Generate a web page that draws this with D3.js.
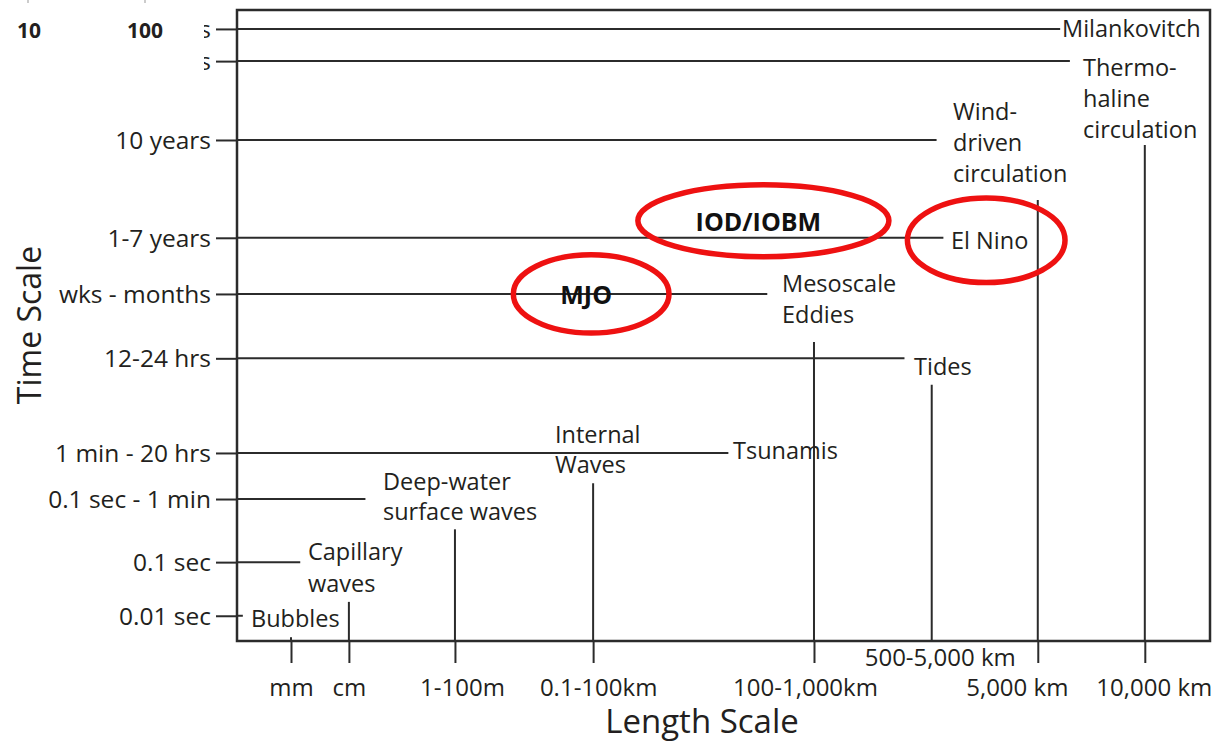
<!DOCTYPE html>
<html>
<head>
<meta charset="utf-8">
<script src="https://cdn.jsdelivr.net/npm/d3@7"></script>
<style>
  body { margin: 0; background: #fff; }
  svg { display: block; }
  text { font-family: "Open Sans", "Noto Sans", sans-serif; fill: #231f20; }
</style>
</head>
<body>
<svg class="scales-svg" width="1217" height="743"></svg>
<script>
// time scale ticks (top to bottom), position in arbitrary 0-100 units
var timeLabels = ["100,000 years", "1,000 years", "10 years", "1-7 years", "wks - months",
    "12-24 hrs", "1 min - 20 hrs", "0.1 sec - 1 min", "0.1 sec", "0.01 sec"];
var timeLevels = [97.0, 91.9, 79.4, 63.9, 55.0, 44.8, 29.8, 22.5, 12.5, 4.0];

// length scale ticks (left to right)
var lengthLabels = ["mm", "cm", "1-100m", "0.1-100km", "100-1,000km", "500-5,000 km", "5,000 km", "10,000 km"];
var lengthLevels = [5.55, 11.5, 22.4, 36.6, 59.3, 71.4, 82.3, 93.3];

// phenomena: which time row / length column, and how far the line reaches
var phenomena = [
    {"name": ["Milankovitch"], "time": 0, "length": null, "reach": 84.6, "rise": null},
    {"name": ["Thermo-", "haline", "circulation"], "time": 1, "length": 7, "reach": 85.6, "rise": 78.6},
    {"name": ["Wind-", "driven", "circulation"], "time": 2, "length": 6, "reach": 71.9, "rise": 69.9},
    {"name": ["El Nino"], "time": 3, "length": null, "reach": 72.6, "rise": null},
    {"name": ["Mesoscale", "Eddies"], "time": 4, "length": 4, "reach": 54.5, "rise": 47.4},
    {"name": ["Tides"], "time": 5, "length": 5, "reach": 68.6, "rise": 40.6},
    {"name": ["Internal", "Waves"], "time": null, "length": 3, "reach": null, "rise": 25.0},
    {"name": ["Tsunamis"], "time": 6, "length": null, "reach": 50.5, "rise": null},
    {"name": ["Deep-water", "surface waves"], "time": 7, "length": 2, "reach": 13.2, "rise": 17.7},
    {"name": ["Capillary", "waves"], "time": 8, "length": 1, "reach": 6.5, "rise": 6.2},
    {"name": ["Bubbles"], "time": 9, "length": 0, "reach": 0.6, "rise": 0.6}
];

// red highlight ellipses
var highlights = [
    {"text": "IOD/IOBM", "x": 54.1, "y": 66.6, "rx": 12.9, "ry": 5.7},
    {"text": "MJO", "x": 36.4, "y": 55.0, "rx": 8.0, "ry": 6.2},
    {"text": "", "x": 77.0, "y": 63.5, "rx": 8.1, "ry": 6.7}
];

// where each phenomenon's label sits (layout only)
var labelPos = [
    [1062, 37, 31], [1083, 76, 31], [953, 120, 31], [951, 249, 31], [782, 292, 31],
    [914, 375, 31], [555, 443, 30], [733, 459, 31], [383, 490, 30], [308, 560, 32], [251, 627, 31]
];
var labelShift = {"5,000 km": -21, "10,000 km": 9, "1-100m": 7, "0.1-100km": 5, "100-1,000km": -9, "500-5,000 km": 8};

function drawChart() {
    var pLeft = 237, pRight = 1210, pTop = 10, pBottom = 641;
    var ink = "#2b2b2b";

    var svg = d3.select(".scales-svg");
    var x = d3.scaleLinear().domain([0, 100]).range([pLeft, pRight]);
    var y = d3.scaleLinear().domain([0, 100]).range([pBottom, pTop]);

    // frame
    svg.append("rect")
        .attr("x", pLeft).attr("y", pTop)
        .attr("width", pRight - pLeft).attr("height", pBottom - pTop)
        .attr("fill", "none").attr("stroke", ink).attr("stroke-width", 2.5);

    // time axis
    var yAxis = d3.axisLeft(y)
        .tickValues(timeLevels)
        .tickFormat(function(d, i) { return timeLabels[i]; })
        .tickSize(21).tickPadding(5);
    var gy = svg.append("g").attr("transform", "translate(" + pLeft + ",0)").call(yAxis);
    gy.select(".domain").remove();
    gy.selectAll(".tick line").attr("stroke", ink).attr("stroke-width", 2);
    gy.selectAll(".tick text")
        .attr("font-size", 24.5).attr("font-family", "Open Sans").attr("fill", "#231f20")
        .attr("dy", "0.35em");

    // length axis
    var xAxis = d3.axisBottom(x)
        .tickValues(lengthLevels)
        .tickFormat(function(d, i) { return lengthLabels[i]; })
        .tickSize(22).tickPadding(10);
    var gx = svg.append("g").attr("transform", "translate(0," + pBottom + ")").call(xAxis);
    gx.select(".domain").remove();
    gx.selectAll(".tick line")
        .attr("stroke", ink).attr("stroke-width", 2)
        .attr("y2", function(d, i) { return lengthLabels[i] == "500-5,000 km" ? 0 : 22; });
    gx.selectAll(".tick text")
        .attr("font-size", 24).attr("font-family", "Open Sans").attr("fill", "#231f20")
        .attr("dy", null)
        .attr("x", function(d, i) { return labelShift[lengthLabels[i]] || 0; })
        .attr("y", function(d, i) { return lengthLabels[i] == "500-5,000 km" ? 25 : 55; });

    // phenomena lines
    var marks = svg.append("g").attr("stroke", ink).attr("stroke-width", 2);
    marks.selectAll(".hline")
        .data(phenomena.filter(function(p) { return p.time !== null; })).enter()
        .append("line")
        .attr("x1", pLeft)
        .attr("x2", function(p) { return x(p.reach); })
        .attr("y1", function(p) { return y(timeLevels[p.time]); })
        .attr("y2", function(p) { return y(timeLevels[p.time]); });
    marks.selectAll(".vline")
        .data(phenomena.filter(function(p) { return p.length !== null; })).enter()
        .append("line")
        .attr("x1", function(p) { return x(lengthLevels[p.length]); })
        .attr("x2", function(p) { return x(lengthLevels[p.length]); })
        .attr("y1", pBottom)
        .attr("y2", function(p) { return y(p.rise); });

    // phenomena labels
    var labels = svg.selectAll(".plabel")
        .data(phenomena).enter()
        .append("text")
        .attr("font-size", 23.5)
        .attr("x", function(p, i) { return labelPos[i][0]; })
        .attr("y", function(p, i) { return labelPos[i][1]; });
    labels.selectAll("tspan")
        .data(function(p, i) { return p.name.map(function(n) { return {t: n, lh: labelPos[i][2], x: labelPos[i][0]}; }); })
        .enter().append("tspan")
        .attr("x", function(d) { return d.x; })
        .attr("dy", function(d, j) { return j == 0 ? 0 : d.lh; })
        .text(function(d) { return d.t; });

    // highlights
    svg.selectAll(".hl")
        .data(highlights).enter()
        .append("ellipse")
        .attr("cx", function(h) { return x(h.x); })
        .attr("cy", function(h) { return y(h.y); })
        .attr("rx", function(h) { return x(h.rx) - x(0); })
        .attr("ry", function(h) { return y(0) - y(h.ry); })
        .attr("fill", "none").attr("stroke", "#ee1111").attr("stroke-width", 5.5);
    svg.selectAll(".hltext")
        .data(highlights).enter()
        .append("text")
        .attr("x", function(h) { return x(h.x) - 5; })
        .attr("y", function(h) { return y(h.y) + 10; })
        .attr("text-anchor", "middle")
        .attr("font-weight", "bold").attr("font-size", 25)
        .style("fill", "#111")
        .text(function(h) { return h.text; });

    // axis titles
    svg.append("text")
        .attr("transform", "translate(41,325) rotate(-90)")
        .attr("text-anchor", "middle").attr("font-size", 32)
        .text("Time Scale");
    svg.append("text")
        .attr("x", 702).attr("y", 733)
        .attr("text-anchor", "middle").attr("font-size", 33)
        .text("Length Scale");

    // pasted-over corner from the source image
    svg.append("rect").attr("x", 0).attr("y", 0).attr("width", 204).attr("height", 78).attr("fill", "#fff");
    svg.append("text").attr("x", 17).attr("y", 38).attr("font-weight", "bold").attr("font-size", 21).text("10");
    svg.append("text").attr("x", 127).attr("y", 38).attr("font-weight", "bold").attr("font-size", 21).text("100");
    svg.append("line").attr("x1", 28).attr("x2", 28).attr("y1", 0).attr("y2", 3).attr("stroke", "#999");
    svg.append("line").attr("x1", 145).attr("x2", 145).attr("y1", 0).attr("y2", 3).attr("stroke", "#999");
}

drawChart();
</script>
</body>
</html>
